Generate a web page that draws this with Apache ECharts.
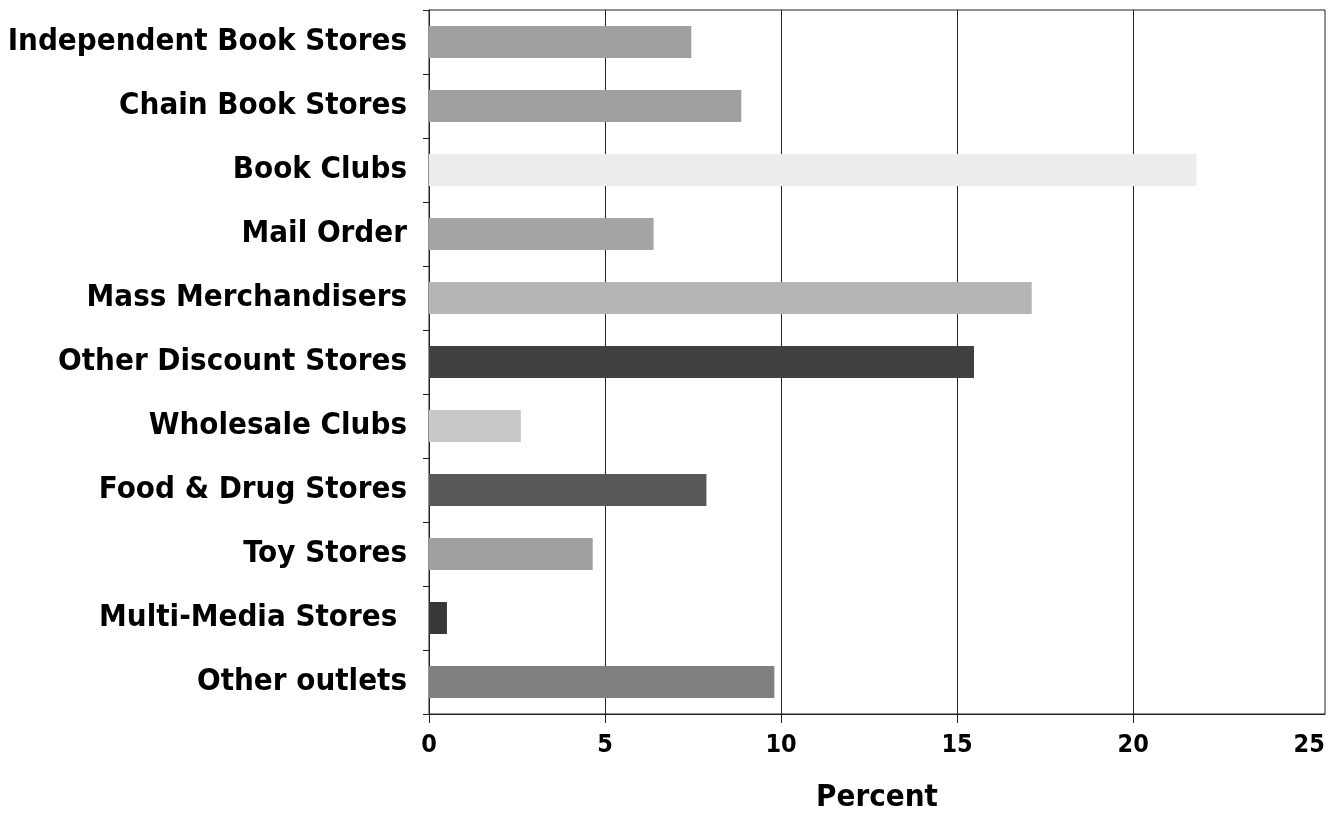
<!DOCTYPE html>
<html>
<head>
<meta charset="utf-8">
<script src="https://cdn.jsdelivr.net/npm/echarts@6/dist/echarts.min.js"></script>
<style>
html,body{margin:0;padding:0;background:#fff;}
#chart{width:1333px;height:824px;}
</style>
</head>
<body>
<div id="chart"></div>
<script>
const categories = ["Independent Book Stores","Chain Book Stores","Book Clubs","Mail Order","Mass Merchandisers","Other Discount Stores","Wholesale Clubs","Food & Drug Stores","Toy Stores","Multi-Media Stores ","Other outlets"];
const percentValues = [7.45, 8.87, 21.8, 6.38, 17.12, 15.48, 2.61, 7.88, 4.65, 0.51, 9.81];
const barColors = ["#a0a0a0","#a0a0a0","#ececec","#a4a4a4","#b5b5b5","#404040","#c8c8c8","#585858","#a0a0a0","#383838","#808080"];
const xTickLabels = [0, 5, 10, 15, 20, 25];
const xGridTicks = [0, 5, 10, 15, 20];
const axisTitle = "Percent";

const FONT = '"Liberation Sans Narrow","Arial Narrow","DejaVu Sans Condensed",sans-serif';
const chart = echarts.init(document.getElementById('chart'), null, {renderer:'canvas'});
chart.setOption({
  animation:false,
  backgroundColor:'#fff',
  grid:{left:429, top:10, right:8, bottom:110, show:true, borderColor:'#222', borderWidth:1, containLabel:false, outerBoundsMode:'none'},
  xAxis:{
    type:'value', min:0, max:25.45, interval:5,
    name:axisTitle, nameLocation:'middle', nameGap:68,
    nameTextStyle:{fontFamily:FONT, fontWeight:'bold', fontSize:31, color:'#000'},
    axisLine:{show:true, lineStyle:{color:'#222', width:1}},
    axisTick:{show:true, inside:false, length:9, customValues:xGridTicks, lineStyle:{color:'#222'}},
    axisLabel:{fontFamily:FONT, fontWeight:'bold', fontSize:25, color:'#000', margin:19, customValues:xTickLabels},
    splitLine:{show:true, lineStyle:{color:'#222', width:1}}
  },
  yAxis:{
    type:'category', data:categories, inverse:true, boundaryGap:true,
    axisLine:{show:true, lineStyle:{color:'#222', width:1}},
    axisTick:{show:true, inside:false, length:6, interval:0, lineStyle:{color:'#222'}},
    axisLabel:{fontFamily:FONT, fontWeight:'bold', fontSize:31, color:'#000', margin:22, interval:0, padding:[0,0,6,0]},
    splitLine:{show:false}
  },
  series:[{
    type:'bar', barWidth:32,
    data:percentValues.map((v,i)=>({value:v, itemStyle:{color:barColors[i]}}))
  }]
});
</script>
</body>
</html>
